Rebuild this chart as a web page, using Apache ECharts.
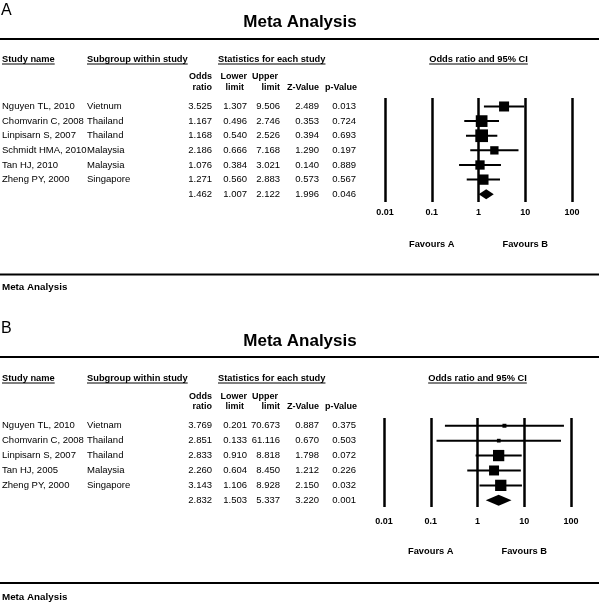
<!DOCTYPE html>
<html><head><meta charset="utf-8">
<script src="https://cdn.jsdelivr.net/npm/echarts@6/dist/echarts.min.js"></script>
<style>html,body{margin:0;padding:0;background:#fff}#c{width:600px;height:603px}</style>
</head><body><div id="c"></div>
<script>
// ---------- DATA ----------
// Panel A (last entry = combined estimate)
const studiesA   = ['Nguyen TL, 2010','Chomvarin C, 2008','Linpisarn S, 2007','Schmidt HMA, 2010','Tan HJ, 2010','Zheng PY, 2000',''];
const subgroupsA = ['Vietnum','Thailand','Thailand','Malaysia','Malaysia','Singapore',''];
const oddsA  = [3.525,1.167,1.168,2.186,1.076,1.271,1.462];
const lowerA = [1.307,0.496,0.540,0.666,0.384,0.560,1.007];
const upperA = [9.506,2.746,2.526,7.168,3.021,2.883,2.122];
const zA     = [2.489,0.353,0.394,1.290,0.140,0.573,1.996];
const pA     = [0.013,0.724,0.693,0.197,0.889,0.567,0.046];
const weightA = [15.2,20.8,24.4,10.5,13.1,16.1]; // relative weights (%), estimated from square sizes
// Panel B (last entry = combined estimate)
const studiesB   = ['Nguyen TL, 2010','Chomvarin C, 2008','Linpisarn S, 2007','Tan HJ, 2005','Zheng PY, 2000',''];
const subgroupsB = ['Vietnam','Thailand','Thailand','Malaysia','Singapore',''];
const oddsB  = [3.769,2.851,2.833,2.260,3.143,2.832];
const lowerB = [0.201,0.133,0.910,0.604,1.106,1.503];
const upperB = [70.673,61.116,8.818,8.450,8.928,5.337];
const zB     = [0.887,0.670,1.798,1.212,2.150,3.220];
const pB     = [0.375,0.503,0.072,0.226,0.032,0.001];
const weightB = [4.1,3.6,33.2,25.9,33.2];
const tickLabels = ['0.01','0.1','1','10','100'];
const panelLetters = ['A','B'];
const titleText = 'Meta Analysis';

// ---------- LAYOUT ----------
const FONT = '"Liberation Sans", Arial, sans-serif';
const panels = [
  {letter:panelLetters[0], studies:studiesA, subs:subgroupsA, or:oddsA, lo:lowerA, hi:upperA, z:zA, p:pA, w:weightA,
   grid:{left:385, top:98, width:187, height:104}, yMin:-0.58, yMax:6.53, sqK:2.57, half:5, margin:6,
   letterY:10.5, titleY:22, ruleY:39, headY:59, sub1Y:77, sub2Y:88, favY:244, bottomY:274.5, footY:287},
  {letter:panelLetters[1], studies:studiesB, subs:subgroupsB, or:oddsB, lo:lowerB, hi:upperB, z:zB, p:pB, w:weightB,
   grid:{left:384, top:418, width:187, height:89}, yMin:-0.52, yMax:5.45, sqK:1.96, half:5.5, margin:10,
   letterY:328.5, titleY:341, ruleY:357, headY:378, sub1Y:397, sub2Y:407, favY:551, bottomY:583, footY:597}
];

const chart = echarts.init(document.getElementById('c'), null, {renderer:'canvas'});

function renderForest(weights, sqK, half, nStudies) {
  return function (params, api) {
    const row = api.value(3);
    const lo = api.coord([api.value(0), row]);
    const hi = api.coord([api.value(1), row]);
    const mid = api.coord([api.value(2), row]);
    const i = params.dataIndex;
    if (i >= nStudies) {
      return {type:'polygon', shape:{points:[[lo[0],lo[1]],[mid[0],mid[1]-half],[hi[0],hi[1]],[mid[0],mid[1]+half]]},
              style:{fill:'#000'}};
    }
    const s = sqK * Math.sqrt(weights[i]);
    return {type:'group', children:[
      {type:'line', shape:{x1:lo[0], y1:lo[1], x2:hi[0], y2:hi[1]}, style:{stroke:'#000', lineWidth:2}},
      {type:'rect', shape:{x:mid[0]-s/2, y:mid[1]-s/2, width:s, height:s}, style:{fill:'#000'}}
    ]};
  };
}

const option = {
  backgroundColor:'#fff',
  animation:false,
  grid: panels.map(pn => pn.grid),
  xAxis: panels.map((pn, k) => ({
    type:'log', logBase:10, min:0.01, max:100, gridIndex:k,
    axisLine:{show:false}, axisTick:{show:false},
    splitLine:{show:true, lineStyle:{color:'#000', width:2.5}},
    axisLabel:{margin:pn.margin, color:'#000', fontFamily:FONT, fontWeight:'bold', fontSize:9,
      formatter: v => tickLabels[Math.round(Math.log10(v)) + 2]}
  })),
  yAxis: panels.map((pn, k) => ({
    type:'value', gridIndex:k, min:pn.yMin, max:pn.yMax, inverse:true, show:false, splitLine:{show:false}
  })),
  series: panels.map((pn, k) => ({
    type:'custom', xAxisIndex:k, yAxisIndex:k,
    renderItem: renderForest(pn.w, pn.sqK, pn.half, pn.w.length),
    encode:{x:[0,1,2], y:3},
    data: pn.or.map((v, i) => [pn.lo[i], pn.hi[i], v, i])
  }))
};
chart.setOption(option);

// ---------- TEXT / RULES ----------
const mctx = document.createElement('canvas').getContext('2d');
function textW(t, size, bold) { mctx.font = (bold ? 'bold ' : '') + size + 'px ' + FONT; return mctx.measureText(t).width; }
function txt(t, x, y, align, size, bold) {
  return {type:'text', x:x, y:y, silent:true,
    style:{text:t, fill:'#000', font:(bold?'bold ':'') + size + 'px ' + FONT, textAlign:align||'left', textVerticalAlign:'middle', verticalAlign:'middle'}};
}
function hline(x1, x2, y, w) {
  return {type:'line', silent:true, shape:{x1:x1, y1:y, x2:x2, y2:y}, style:{stroke:'#000', lineWidth:w}};
}
function uText(t, x, y, align, size) {
  const w = textW(t, size, true);
  const x0 = align === 'center' ? x - w/2 : x;
  return [txt(t, x, y, align, size, true), hline(x0, x0 + w, y + 5, 1)];
}

const g = [];
const FS = 9.3;   // bold headers
const FSUB = 9;   // column sub-headers
const FN = 9.5;   // names
const FV = 9.5;   // numbers
panels.forEach((pn, k) => {
  g.push(txt(pn.letter, 1, pn.letterY, 'left', 16, false));
  g.push(txt(titleText, 300, pn.titleY, 'center', 17, true));
  g.push(hline(0, 599, pn.ruleY, 2));
  g.push(...uText('Study name', 2, pn.headY, 'left', FS));
  g.push(...uText('Subgroup within study', 87, pn.headY, 'left', FS));
  g.push(...uText('Statistics for each study', 218, pn.headY, 'left', FS));
  const cx = chart.convertToPixel({xAxisIndex:k}, 1);
  g.push(...uText('Odds ratio and 95% CI', cx, pn.headY, 'center', FS));
  g.push(txt('Odds', 212, pn.sub1Y, 'right', FSUB, true));
  g.push(txt('ratio', 212, pn.sub2Y, 'right', FSUB, true));
  g.push(txt('Lower', 247, pn.sub1Y, 'right', FSUB, true));
  g.push(txt('limit', 244, pn.sub2Y, 'right', FSUB, true));
  g.push(txt('Upper', 252, pn.sub1Y, 'left', FSUB, true));
  g.push(txt('limit', 280, pn.sub2Y, 'right', FSUB, true));
  g.push(txt('Z-Value', 319, pn.sub2Y, 'right', FSUB, true));
  g.push(txt('p-Value', 357, pn.sub2Y, 'right', FSUB, true));
  pn.or.forEach((v, i) => {
    const y = chart.convertToPixel({yAxisIndex:k}, i);
    if (pn.studies[i]) g.push(txt(pn.studies[i], 2, y, 'left', FN, false));
    if (pn.subs[i]) g.push(txt(pn.subs[i], 87, y, 'left', FN, false));
    g.push(txt(v.toFixed(3), 212, y, 'right', FV, false));
    g.push(txt(pn.lo[i].toFixed(3), 247, y, 'right', FV, false));
    g.push(txt(pn.hi[i].toFixed(3), 280, y, 'right', FV, false));
    g.push(txt(pn.z[i].toFixed(3), 319, y, 'right', FV, false));
    g.push(txt(pn.p[i].toFixed(3), 356, y, 'right', FV, false));
  });
  g.push(txt('Favours A', chart.convertToPixel({xAxisIndex:k}, 0.1), pn.favY, 'center', FS, true));
  g.push(txt('Favours B', chart.convertToPixel({xAxisIndex:k}, 10), pn.favY, 'center', FS, true));
  g.push(hline(0, 599, pn.bottomY, 2));
  g.push(txt(titleText, 2, pn.footY, 'left', 9.8, true));
});
chart.setOption({graphic:{elements:g}});
</script></body></html>
